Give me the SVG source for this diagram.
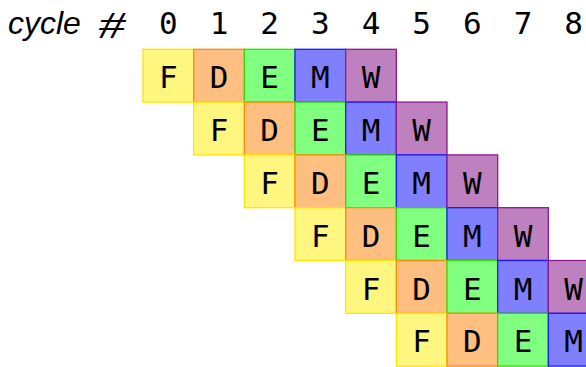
<svg xmlns="http://www.w3.org/2000/svg" width="586" height="367" viewBox="0 0 586 367">
<style>
.c{stroke-width:1.3}
.F{fill:#FFF67F;stroke:#FFE500}
.D{fill:#FFBF80;stroke:#FF8C00}
.E{fill:#80FF80;stroke:#33DD00}
.M{fill:#8080FF;stroke:#1A1AFF}
.W{fill:#BF80BF;stroke:#8C1A8C}
.t{font-family:"DejaVu Sans Mono",monospace;font-size:31px;fill:#000;text-anchor:middle}
.h{font-family:"Liberation Sans",Arial,sans-serif;font-size:32px;font-style:italic;fill:#000}
</style>
<rect width="586" height="367" fill="#fff"/>
<g id="header">
<text class="h" x="8" y="34">cycle</text>
<text transform="translate(112,38) scale(1.45,1)" font-family="Liberation Serif,serif" font-size="37" font-style="italic" text-anchor="middle" fill="#000">#</text>
<text class="t" x="168.3" y="34">0</text>
<text class="t" x="219" y="34">1</text>
<text class="t" x="269.7" y="34">2</text>
<text class="t" x="320.3" y="34">3</text>
<text class="t" x="371" y="34">4</text>
<text class="t" x="421.7" y="34">5</text>
<text class="t" x="472.3" y="34">6</text>
<text class="t" x="523" y="34">7</text>
<text class="t" x="573.7" y="34">8</text>
</g>
<g id="instr1">
<rect class="c F" x="143" y="49.3" width="50.67" height="52.8"/><text class="t" x="168.3" y="88.3">F</text>
<rect class="c D" x="193.67" y="49.3" width="50.67" height="52.8"/><text class="t" x="219" y="88.3">D</text>
<rect class="c E" x="244.33" y="49.3" width="50.67" height="52.8"/><text class="t" x="269.7" y="88.3">E</text>
<rect class="c M" x="295" y="49.3" width="50.67" height="52.8"/><text class="t" x="320.3" y="88.3">M</text>
<rect class="c W" x="345.67" y="49.3" width="50.67" height="52.8"/><text class="t" x="371" y="88.3">W</text>
</g>
<g id="instr2">
<rect class="c F" x="193.67" y="102.1" width="50.67" height="52.8"/><text class="t" x="219" y="141.1">F</text>
<rect class="c D" x="244.33" y="102.1" width="50.67" height="52.8"/><text class="t" x="269.7" y="141.1">D</text>
<rect class="c E" x="295" y="102.1" width="50.67" height="52.8"/><text class="t" x="320.3" y="141.1">E</text>
<rect class="c M" x="345.67" y="102.1" width="50.67" height="52.8"/><text class="t" x="371" y="141.1">M</text>
<rect class="c W" x="396.33" y="102.1" width="50.67" height="52.8"/><text class="t" x="421.7" y="141.1">W</text>
</g>
<g id="instr3">
<rect class="c F" x="244.33" y="154.9" width="50.67" height="52.8"/><text class="t" x="269.7" y="193.9">F</text>
<rect class="c D" x="295" y="154.9" width="50.67" height="52.8"/><text class="t" x="320.3" y="193.9">D</text>
<rect class="c E" x="345.67" y="154.9" width="50.67" height="52.8"/><text class="t" x="371" y="193.9">E</text>
<rect class="c M" x="396.33" y="154.9" width="50.67" height="52.8"/><text class="t" x="421.7" y="193.9">M</text>
<rect class="c W" x="447" y="154.9" width="50.67" height="52.8"/><text class="t" x="472.3" y="193.9">W</text>
</g>
<g id="instr4">
<rect class="c F" x="295" y="207.7" width="50.67" height="52.8"/><text class="t" x="320.3" y="246.7">F</text>
<rect class="c D" x="345.67" y="207.7" width="50.67" height="52.8"/><text class="t" x="371" y="246.7">D</text>
<rect class="c E" x="396.33" y="207.7" width="50.67" height="52.8"/><text class="t" x="421.7" y="246.7">E</text>
<rect class="c M" x="447" y="207.7" width="50.67" height="52.8"/><text class="t" x="472.3" y="246.7">M</text>
<rect class="c W" x="497.67" y="207.7" width="50.67" height="52.8"/><text class="t" x="523" y="246.7">W</text>
</g>
<g id="instr5">
<rect class="c F" x="345.67" y="260.5" width="50.67" height="52.8"/><text class="t" x="371" y="299.5">F</text>
<rect class="c D" x="396.33" y="260.5" width="50.67" height="52.8"/><text class="t" x="421.7" y="299.5">D</text>
<rect class="c E" x="447" y="260.5" width="50.67" height="52.8"/><text class="t" x="472.3" y="299.5">E</text>
<rect class="c M" x="497.67" y="260.5" width="50.67" height="52.8"/><text class="t" x="523" y="299.5">M</text>
<rect class="c W" x="548.33" y="260.5" width="50.67" height="52.8"/><text class="t" x="573.7" y="299.5">W</text>
</g>
<g id="instr6">
<rect class="c F" x="396.33" y="313.3" width="50.67" height="52.8"/><text class="t" x="421.7" y="352.3">F</text>
<rect class="c D" x="447" y="313.3" width="50.67" height="52.8"/><text class="t" x="472.3" y="352.3">D</text>
<rect class="c E" x="497.67" y="313.3" width="50.67" height="52.8"/><text class="t" x="523" y="352.3">E</text>
<rect class="c M" x="548.33" y="313.3" width="50.67" height="52.8"/><text class="t" x="573.7" y="352.3">M</text>
</g>
<g id="connectors"/>
</svg>
